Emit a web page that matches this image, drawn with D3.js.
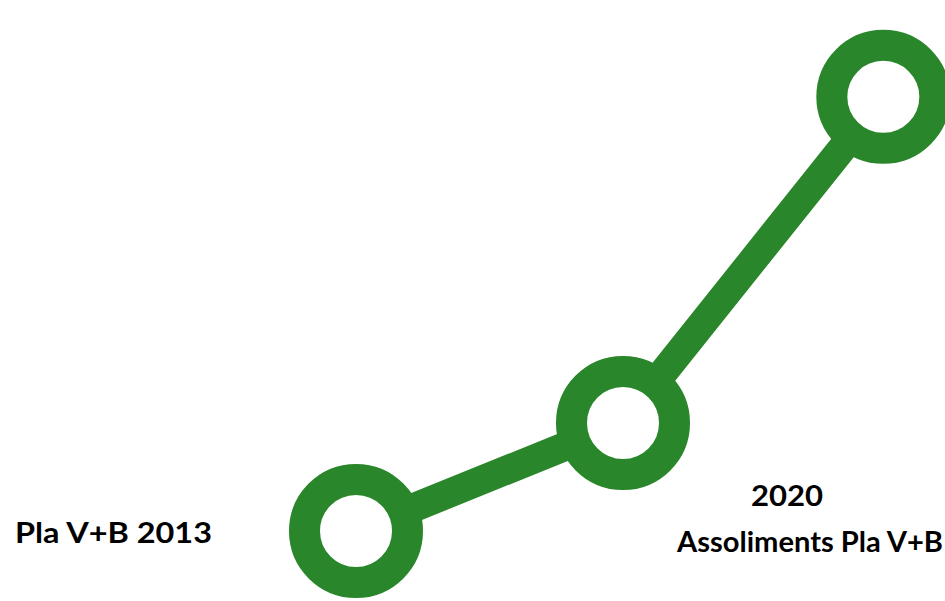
<!DOCTYPE html>
<html>
<head>
<meta charset="utf-8">
<script src="https://cdn.jsdelivr.net/npm/d3@7"></script>
<style>
  html, body { margin: 0; padding: 0; background: #ffffff; }
  svg { display: block; }
</style>
</head>
<body>
<svg id="chart" width="945" height="601"></svg>
<script>
// ---- data ----
const steps = [0, 1, 1.975];         // position along the path
const values = [0, 1, 4.02];         // height of each milestone
const labelLeft = "Pla V+B 2013";
const labelRightTop = "2020";
const labelRightBottom = "Assoliments Pla V+B";

// ---- layout ----
const green = "#2a862a";
const svg = d3.select("#chart");

const x = d3.scaleLinear().domain([0, 1]).range([356, 623]);
const y = d3.scaleLinear().domain([0, 1]).range([531, 423]);

const pts = steps.map((s, i) => [x(s), y(values[i])]);

svg.append("path")
  .datum(pts)
  .attr("d", d3.line())
  .attr("fill", "none")
  .attr("stroke", green)
  .attr("stroke-width", 29);

svg.selectAll("circle.ring")
  .data(pts)
  .join("circle")
  .attr("class", "ring")
  .attr("cx", d => d[0])
  .attr("cy", d => d[1])
  .attr("r", 51.5)
  .attr("fill", "#ffffff")
  .attr("stroke", green)
  .attr("stroke-width", 31);

const font = "Lato, 'Open Sans', sans-serif";

svg.append("text")
  .attr("x", 15).attr("y", 543)
  .attr("font-family", font).attr("font-weight", "bold")
  .attr("font-size", 29)
  .attr("textLength", 197).attr("lengthAdjust", "spacingAndGlyphs")
  .attr("fill", "#000")
  .text(labelLeft);

svg.append("text")
  .attr("x", 787).attr("y", 506)
  .attr("text-anchor", "middle")
  .attr("font-family", font).attr("font-weight", "bold")
  .attr("font-size", 29)
  .attr("textLength", 72).attr("lengthAdjust", "spacingAndGlyphs")
  .attr("fill", "#000")
  .text(labelRightTop);

svg.append("text")
  .attr("x", 677).attr("y", 552)
  .attr("font-family", font).attr("font-weight", "bold")
  .attr("font-size", 29)
  .attr("textLength", 266).attr("lengthAdjust", "spacingAndGlyphs")
  .attr("fill", "#000")
  .text(labelRightBottom);
</script>
</body>
</html>
